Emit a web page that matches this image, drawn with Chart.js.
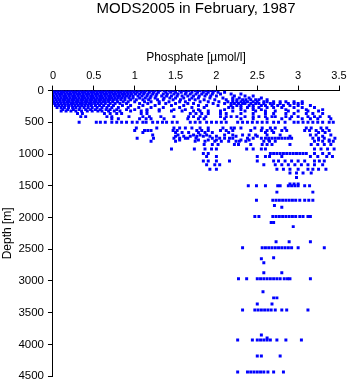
<!DOCTYPE html>
<html>
<head>
<meta charset="utf-8">
<title>MODS2005 in February, 1987</title>
<script src="https://cdn.jsdelivr.net/npm/chart.js@4/dist/chart.umd.min.js"></script>
<style>
body { margin: 0; background: #fff; overflow: hidden; }
#wrap { width: 350px; height: 387px; }
</style>
</head>
<body>
<div id="wrap"><canvas id="perfil"></canvas></div>
<script>
// depth (m) of each row of samples, and the phosphate values (umol/l) read at it
const upperDepths = [0, 25, 55, 85, 115, 145, 175, 205, 235, 265, 300, 320, 360, 410, 445, 500];
const upperPhosphate = [
    [0.01,0.05,0.09,0.12,0.16,0.2,0.23,0.27,0.31,0.34,0.38,0.42,0.45,0.49,0.53,0.56,0.6,0.64,0.67,0.71,0.75,0.78,0.82,0.86,0.89,0.93,0.97,1.0,1.05,1.1,1.14,1.2,1.25,1.31,1.36,1.42,1.47,1.55,1.6,1.66,1.74,1.8,1.87,1.93,1.98],
    [0.02,0.06,0.1,0.13,0.17,0.21,0.25,0.28,0.32,0.36,0.39,0.43,0.47,0.5,0.54,0.58,0.61,0.65,0.69,0.72,0.76,0.8,0.83,0.87,0.91,0.95,0.99,1.03,1.08,1.12,1.18,1.23,1.29,1.38,1.44,1.5,1.57,1.63,1.7,1.77,1.84,1.9,1.96,2.02,2.1],
    [0.0,0.04,0.08,0.11,0.15,0.19,0.22,0.26,0.3,0.33,0.37,0.41,0.44,0.48,0.52,0.55,0.59,0.63,0.66,0.7,0.74,0.77,0.81,0.85,0.88,0.92,0.96,1.01,1.06,1.11,1.16,1.22,1.27,1.35,1.4,1.48,1.53,1.62,1.68,1.75,1.82,1.88,1.95,2.05,2.18,2.3],
    [0.01,0.05,0.09,0.13,0.16,0.2,0.24,0.27,0.31,0.35,0.38,0.42,0.46,0.49,0.53,0.57,0.6,0.64,0.68,0.71,0.75,0.79,0.82,0.86,0.9,0.94,0.98,1.04,1.09,1.15,1.2,1.26,1.33,1.39,1.45,1.52,1.58,1.65,1.72,1.79,1.86,1.93,2.0,2.22,2.35,2.45],
    [0.02,0.06,0.1,0.14,0.17,0.21,0.25,0.28,0.32,0.36,0.39,0.43,0.47,0.5,0.54,0.58,0.61,0.65,0.69,0.72,0.76,0.8,0.84,0.88,0.93,0.98,1.06,1.13,1.19,1.25,1.36,1.43,1.5,1.6,1.7,1.78,1.92,2.08,2.2,2.28,2.4,2.55],
    [0.0,0.04,0.08,0.12,0.15,0.19,0.23,0.26,0.3,0.34,0.37,0.41,0.45,0.48,0.52,0.56,0.59,0.63,0.67,0.7,0.74,0.78,0.83,0.88,0.95,1.02,1.1,1.17,1.28,1.35,1.47,1.56,1.67,1.74,1.85,1.98,2.12,2.2,2.25,2.32,2.36,2.42,2.48,2.52,2.62],
    [0.01,0.05,0.09,0.13,0.17,0.2,0.24,0.28,0.31,0.35,0.39,0.42,0.46,0.5,0.53,0.57,0.61,0.64,0.68,0.73,0.79,0.86,0.92,1.0,1.12,1.2,1.3,1.42,1.55,1.62,1.8,1.9,2.03,2.14,2.2,2.25,2.3,2.34,2.38,2.45,2.5,2.58,2.62,2.7,2.78,2.85,2.95,3.05],
    [0.02,0.06,0.1,0.14,0.18,0.22,0.25,0.29,0.33,0.36,0.4,0.44,0.47,0.51,0.55,0.59,0.64,0.7,0.76,0.82,0.9,1.06,1.16,1.3,1.38,1.5,1.65,1.72,1.96,2.1,2.18,2.22,2.27,2.32,2.35,2.42,2.48,2.52,2.58,2.66,2.7,2.78,2.88,2.95,3.0,3.05],
    [0.03,0.07,0.11,0.15,0.19,0.23,0.27,0.31,0.35,0.39,0.43,0.47,0.52,0.57,0.62,0.68,0.74,0.85,0.95,1.1,1.25,1.45,1.6,1.78,1.88,2.02,2.18,2.25,2.3,2.4,2.45,2.55,2.6,2.68,2.75,2.82,2.9,3.0,3.15],
    [0.05,0.1,0.14,0.19,0.24,0.28,0.33,0.38,0.43,0.48,0.54,0.6,0.66,0.72,0.8,0.92,1.05,1.2,1.35,1.55,1.7,1.85,2.15,2.2,2.3,2.38,2.45,2.52,2.62,2.7,2.8,2.95,3.05,3.2],
    [0.12,0.18,0.25,0.32,0.4,0.46,0.52,0.58,0.65,0.7,0.78,0.9,1.0,1.15,1.3,1.48,1.62,1.78,2.1,2.3,2.45,2.55,2.85,3.1,3.3],
    [0.1,0.16,0.22,0.28,0.35,0.42,0.48,0.55,0.6,0.68,0.75,0.82,0.95,1.08,1.15,1.3,1.45,1.58,1.72,1.8,1.9,2.05,2.2,2.35,2.48,2.6,2.72,2.88,3.0,3.12,3.25],
    [0.3,0.36,0.63,0.7,0.78,0.84,1.08,1.15,1.68,1.75,1.82,1.9,2.05,2.12,2.3,2.45,2.6,2.7,2.85,2.95,3.1,3.18,3.3],
    [0.34,0.4,0.66,0.72,0.93,1.1,1.18,1.32,1.48,1.66,1.72,1.8,1.87,2.05,2.12,2.18,2.25,2.35,2.45,2.52,2.6,2.68,2.72,2.85,2.92,3.0,3.12,3.2,3.27,3.38],
    [0.72,0.8,1.06,1.14,1.2,1.36,1.65,1.78,1.85,2.1,2.3,2.45,2.62,2.8,2.9,3.05,3.15,3.24,3.4],
    [0.32,0.53,0.58,0.64,0.72,0.78,0.84,0.9,0.97,1.03,1.1,1.14,1.22,1.28,1.34,1.39,1.46,1.52,1.68,1.74,1.8,1.88,1.94,2.0,2.06,2.12,2.26,2.32,2.38,2.44,2.5,2.56,2.62,2.7,2.76,2.84,2.95,3.0,3.06,3.12,3.18,3.24,3.3,3.38,3.43]
];

const midDepths = [590, 630, 660, 700, 720, 750, 780, 800, 850, 920, 990, 1040, 1110, 1170, 1240, 1300, 1370, 1470, 1500, 1600, 1730, 1810, 1840, 1985];
const midPhosphate = [
    [1.02,1.27,1.48,1.55,1.62,1.7,1.8,1.9,2.08,2.18,2.22,2.3,2.47,2.56,2.66,2.72,2.84,3.1,3.16,3.28,3.35],
    [1.0,1.12,1.16,1.2,1.47,1.52,1.76,1.82,1.9,2.05,2.12,2.2,2.42,2.55,2.62,2.68,2.8,2.86,3.08,3.14,3.22,3.3,3.38],
    [1.1,1.5,1.58,1.66,1.78,1.86,1.95,2.15,2.6,2.7,3.25,3.33],
    [1.22,1.53,1.72,1.8,1.88,2.1,2.2,2.32,2.4,2.48,2.62,2.78,3.15,3.22,3.4],
    [1.5,1.6,1.68,1.76,1.84,1.92,2.0,2.24,2.5,2.9,3.3],
    [1.03,1.23,1.48,1.55,1.62,1.65,1.75,1.95,2.04,2.1,2.16,2.2,2.38,2.45,2.55,2.6,2.64,2.68,2.72,2.76,2.8,2.84,2.88,2.92,3.18,3.25,3.32,3.45],
    [1.55,1.78,1.9,2.0,2.3,2.4,2.64,3.25,3.38],
    [1.2,1.5,1.74,1.86,1.98,2.06,2.15,2.24,2.28,2.36,2.58,2.65,2.72,3.2,3.3,3.38,3.43],
    [1.85,1.95,2.02,2.22,2.27,2.42,2.56,2.62,2.68,2.9,3.16,3.24,3.32,3.4],
    [1.45,1.73,1.86,1.94,2.0,2.37,2.45,2.55,2.6,3.2,3.28,3.36,3.44],
    [1.84,1.9,2.66,2.7,2.74,2.78,2.82,2.86,2.9,2.94,2.98,3.02,3.06,3.1,3.2,3.3,3.38],
    [1.88,2.0,2.5,2.6,2.65,2.8,3.15,3.24,3.35,3.42],
    [1.84,1.9,2.0,2.16,2.5,2.7,2.76,2.84,2.92,3.0,3.08,3.2,3.26,3.32],
    [1.88,1.98,2.04,2.58,2.72,2.8,2.88,2.96,3.04,3.12,3.2,3.3],
    [1.92,2.0,2.74,2.82,2.9,3.0,3.12,3.18,3.25,3.34],
    [2.9,2.98,3.06,3.16],
    [2.98],
    [2.9,2.95,3.0],
    [2.39,2.49,2.6,2.75,2.78,2.88,2.92,2.96,3.0,3.08,3.14],
    [2.74,3.18],
    [2.49,2.69,2.73,2.77,2.81,2.85,2.89,2.93,2.97,3.02,3.08,3.13,3.18],
    [2.71],
    [2.8],
    [2.47,2.52,2.69,2.73,2.77,2.81,2.85,2.89,2.93,2.97,3.02,3.06,3.12,3.15]
];

const deepDepths = [2080, 2144, 2381, 2476, 2634, 2650, 2713, 2871, 2966, 3172, 3267, 3362, 3457, 3852, 3900, 3931, 4184, 4437];
const deepPhosphate = [
    [2.67,2.7],
    [2.94],
    [2.73,2.89,3.15],
    [2.32,2.56,2.6,2.64,2.68,2.72,2.76,2.8,2.84,2.88,2.92,3.0,3.32],
    [2.7],
    [2.55],
    [2.58],
    [2.58,2.8],
    [2.27,2.37,2.5,2.54,2.58,2.62,2.66,2.7,2.74,2.78,2.83,2.87,2.9,3.15],
    [2.57],
    [2.7,2.74],
    [2.5,2.68],
    [2.32,2.47,2.51,2.55,2.59,2.63,2.67,2.72,2.8,2.86,3.12],
    [2.55],
    [2.62],
    [2.26,2.44,2.5,2.54,2.58,2.62,2.66,2.74,2.85,3.04],
    [2.5,2.55,2.78],
    [2.26,2.38,2.42,2.46,2.5,2.54,2.58,2.63,2.7,2.82]
];

const fuente = 'Liberation Sans, Arial, Helvetica, sans-serif';

function juntarPuntos(profundidades, valores, salida) {
    for (let i = 0; i < profundidades.length; i++) {
        for (const v of valores[i]) {
            salida.push({ x: v, y: profundidades[i] });
        }
    }
}

const puntos = [];
juntarPuntos(upperDepths, upperPhosphate, puntos);
juntarPuntos(midDepths, midPhosphate, puntos);
juntarPuntos(deepDepths, deepPhosphate, puntos);

// titulo centrado sobre el area del grafico, no sobre todo el canvas
const tituloPlugin = {
    id: 'tituloArriba',
    afterDraw(chart) {
        const c = chart.ctx;
        const area = chart.chartArea;
        c.save();
        c.fillStyle = '#000';
        c.font = '15px ' + fuente;
        c.textAlign = 'center';
        c.textBaseline = 'middle';
        c.fillText('MODS2005 in February, 1987', (area.left + area.right) / 2, 9);
        c.restore();
    }
};

const ctx = document.getElementById('perfil').getContext('2d');
new Chart(ctx, {
    type: 'scatter',
    data: {
        datasets: [{
            data: puntos,
            pointStyle: 'rect',
            pointRadius: 2.1,
            pointBorderWidth: 0,
            backgroundColor: '#0000ff',
            borderColor: '#0000ff'
        }]
    },
    options: {
        responsive: true,
        maintainAspectRatio: false,
        animation: false,
        layout: { padding: { top: 50, right: 11, bottom: 0, left: 0 } },
        plugins: {
            legend: { display: false },
            tooltip: { enabled: false }
        },
        scales: {
            x: {
                type: 'linear',
                position: 'top',
                min: 0,
                max: 3.5,
                ticks: {
                    stepSize: 0.5,
                    color: '#000',
                    padding: 3,
                    maxRotation: 0,
                    font: { family: fuente, size: 11 },
                    callback: (v) => String(v)
                },
                grid: { drawOnChartArea: false, color: '#000', tickLength: 5 },
                border: { color: '#000', width: 1 },
                title: {
                    display: true,
                    text: 'Phosphate [µmol/l]',
                    color: '#000',
                    font: { family: fuente, size: 12 },
                    padding: { top: 0, bottom: 2 }
                }
            },
            y: {
                type: 'linear',
                reverse: true,
                min: 0,
                max: 4500,
                ticks: {
                    stepSize: 500,
                    color: '#000',
                    padding: 4,
                    font: { family: fuente, size: 11.5 },
                    callback: (v) => String(v)
                },
                grid: { drawOnChartArea: false, color: '#000', tickLength: 5 },
                border: { color: '#000', width: 1 },
                title: {
                    display: true,
                    text: 'Depth [m]',
                    color: '#000',
                    font: { family: fuente, size: 12 },
                    padding: { top: 0, bottom: 0 }
                }
            }
        }
    },
    plugins: [tituloPlugin]
});
</script>
</body>
</html>
